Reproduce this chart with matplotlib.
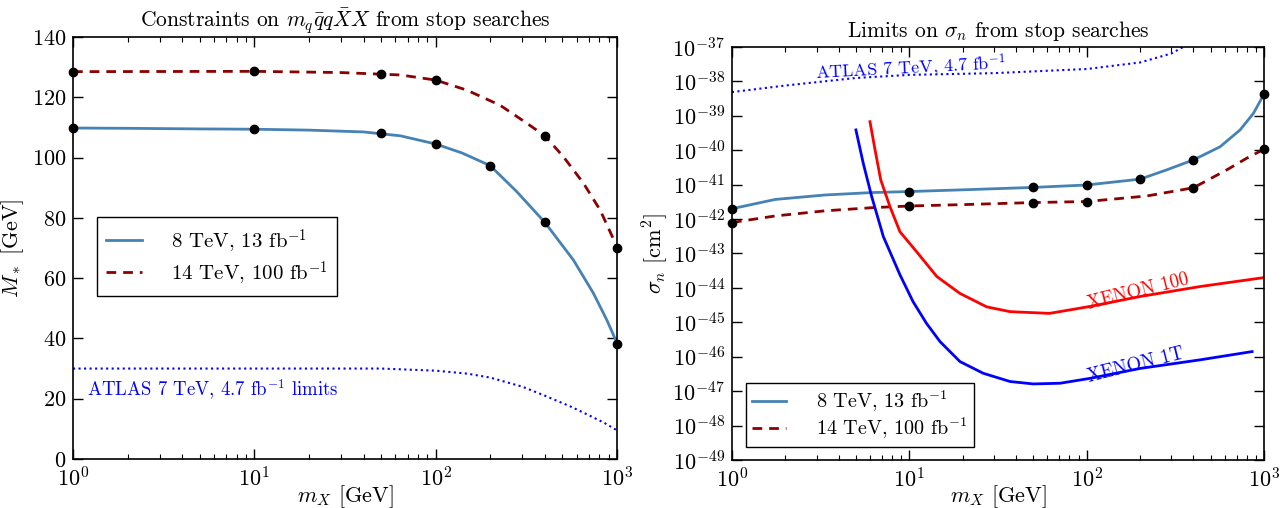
import matplotlib
matplotlib.use("Agg")
import matplotlib.pyplot as plt
import matplotlib.ticker as mticker
import numpy as np

plt.rcParams["font.family"] = ["cmr10", "DejaVu Serif"]
plt.rcParams["mathtext.fontset"] = "cm"
plt.rcParams["axes.formatter.use_mathtext"] = True
plt.rcParams["axes.unicode_minus"] = False

# ── left panel: M_* limits [GeV] ──────────────────────────────────────────────
pts_x = [1, 10, 50, 100, 200, 400, 1000]
m8_pts = [109.8, 109.4, 108.2, 104.5, 97.3, 78.7, 38.0]
m14_pts_x = [1, 10, 50, 100, 400, 1000]
m14_pts = [128.5, 128.6, 127.6, 125.8, 107.3, 70.0]

curve_x8 = [1, 2, 5, 10, 20, 40, 64, 100, 140, 200, 280, 400, 575, 741, 879, 1000]
curve_m8 = [109.8, 109.7, 109.5, 109.4, 109.1, 108.5, 107.2, 104.5, 101.5, 97.3, 88.7, 78.5, 66.0, 55.0, 46.1, 38.5]
curve_x14 = [1, 10, 30, 64, 100, 148, 226, 318, 400, 506, 653, 807, 1000]
curve_m14 = [128.5, 128.6, 128.2, 127.4, 125.7, 122.4, 117.4, 111.4, 107.2, 100.3, 91.5, 82.6, 70.4]
atlas_x = [1, 10, 50, 100, 150, 200, 300, 400, 550, 700, 850, 1000]
atlas_m = [30.0, 30.0, 30.0, 29.3, 28.3, 27.0, 24.0, 21.0, 17.5, 14.5, 12.0, 9.5]

# ── right panel: sigma_n limits, log10(cm^2) ──────────────────────────────────
s8_pts_x = [1, 10, 50, 100, 200, 400, 1000]
s8_pts = [-41.70, -41.20, -41.08, -41.01, -40.84, -40.28, -38.37]
s14_pts_x = [1, 10, 50, 100, 400, 1000]
s14_pts = [-42.10, -41.62, -41.52, -41.49, -41.09, -39.97]

s8_cx = [1, 1.75, 3.35, 6.13, 10, 20, 50, 100, 200, 283, 400, 565, 733, 871, 1000]
s8_cy = [-41.70, -41.43, -41.30, -41.23, -41.20, -41.15, -41.08, -41.01, -40.84, -40.57, -40.28, -39.90, -39.41, -38.93, -38.37]
s14_cx = [1, 1.75, 3.35, 6.13, 10, 20, 50, 100, 218, 400, 617, 800, 1000]
s14_cy = [-42.10, -41.91, -41.76, -41.67, -41.62, -41.58, -41.52, -41.49, -41.33, -41.09, -40.57, -40.23, -39.97]

atlas_sx = [1, 2, 5, 10, 30, 100, 200, 300, 350, 400]
atlas_sy = [-38.31, -38.12, -37.90, -37.81, -37.76, -37.64, -37.45, -37.19, -37.00, -36.80]

x100_x = [6.0, 6.41, 6.9, 7.78, 8.86, 10.8, 14.3, 19.3, 27.3, 37, 61.7, 104, 200, 436, 1000]
x100_y = [-39.17, -39.99, -40.86, -41.64, -42.37, -42.9, -43.67, -44.16, -44.55, -44.69, -44.74,
          -44.54, -44.25, -43.96, -43.70]
x1t_x = [5.0, 5.5, 6.14, 7.14, 8.86, 10.5, 12.5, 14.9, 19.3, 26.1, 37, 50, 70.8, 104, 200, 436, 857]
x1t_y = [-39.41, -40.38, -41.35, -42.51, -43.62, -44.4, -45.03, -45.56, -46.14, -46.48, -46.72,
         -46.79, -46.77, -46.63, -46.34, -46.09, -45.85]

C_8 = "#4682B4"
C_14 = "#8B0000"
DASH = (0, (3.5, 2.5))

fig = plt.figure(figsize=(12.83, 5.08), dpi=100)
ax1 = fig.add_axes([0.0569, 0.0965, 0.4240, 0.8307])
ax2 = fig.add_axes([0.5705, 0.0945, 0.4147, 0.8130])

FS = 16


def sig(v):
    return 10.0 ** np.array(v)


# ── left ──────────────────────────────────────────────────────────────────────
ax1.plot(curve_x8, curve_m8, color=C_8, lw=2, label=r"8 TeV, 13 fb$^{-1}$")
ax1.plot(curve_x14, curve_m14, color=C_14, lw=2, ls=DASH, label=r"14 TeV, 100 fb$^{-1}$")
ax1.plot(atlas_x, atlas_m, color="blue", lw=1.5, ls=":")
ax1.plot(pts_x, m8_pts, "o", color="black", ms=6, clip_on=False, zorder=5)
ax1.plot(m14_pts_x, m14_pts, "o", color="black", ms=6, clip_on=False, zorder=5)
ax1.set_xscale("log")
ax1.set_xlim(1, 1000)
ax1.set_ylim(0, 140)
ax1.set_yticks(np.arange(0, 141, 20))
ax1.yaxis.set_minor_locator(mticker.NullLocator())
ax1.set_title(r"Constraints on $m_q\bar{q}q\bar{X}X$ from stop searches", fontsize=15.5, pad=7)
ax1.set_xlabel(r"$m_X$ [GeV]", fontsize=FS, labelpad=-5)
ax1.set_ylabel(r"$M_*$ [GeV]", fontsize=FS, labelpad=4)
ax1.text(1.2, 23, r"ATLAS 7 TeV, 4.7 fb$^{-1}$ limits", color="blue", fontsize=13.5, va="center")
leg1 = ax1.legend(loc="upper left", bbox_to_anchor=(0.044, 0.573), borderaxespad=0, fontsize=15,
                  fancybox=False, edgecolor="black", framealpha=1, handlelength=1.7,
                  borderpad=0.45, labelspacing=0.2, handletextpad=1.4)
leg1.get_frame().set_linewidth(1.0)

# ── right ─────────────────────────────────────────────────────────────────────
ax2.plot(s8_cx, sig(s8_cy), color=C_8, lw=2, label=r"8 TeV, 13 fb$^{-1}$")
ax2.plot(s14_cx, sig(s14_cy), color=C_14, lw=2, ls=DASH, label=r"14 TeV, 100 fb$^{-1}$")
ax2.plot(atlas_sx, sig(atlas_sy), color="blue", lw=1.5, ls=":")
ax2.plot(x100_x, sig(x100_y), color="red", lw=2)
ax2.plot(x1t_x, sig(x1t_y), color="blue", lw=2)
ax2.plot(s8_pts_x, sig(s8_pts), "o", color="black", ms=6, clip_on=False, zorder=5)
ax2.plot(s14_pts_x, sig(s14_pts), "o", color="black", ms=6, clip_on=False, zorder=5)
ax2.set_xscale("log")
ax2.set_yscale("log")
ax2.set_xlim(1, 1000)
ax2.set_ylim(1e-49, 1e-37)
ax2.yaxis.set_major_locator(mticker.LogLocator(base=10, numticks=20))
ax2.yaxis.set_minor_locator(mticker.NullLocator())
ax2.set_title(r"Limits on $\sigma_n$ from stop searches", fontsize=15.5, pad=7)
ax2.set_xlabel(r"$m_X$ [GeV]", fontsize=FS, labelpad=-6)
ax2.set_ylabel(r"$\sigma_n$ [cm$^2$]", fontsize=FS, labelpad=2)
ax2.text(10.2, 10 ** -37.61, r"ATLAS 7 TeV, 4.7 fb$^{-1}$", color="blue", fontsize=13,
         ha="center", va="center", rotation=3)
ax2.text(195, 10 ** -44.12, "XENON 100", color="red", fontsize=13.5, ha="center", va="center", rotation=14)
ax2.text(188, 10 ** -46.24, "XENON 1T", color="blue", fontsize=13.5, ha="center", va="center", rotation=14)
leg2 = ax2.legend(loc="lower left", bbox_to_anchor=(0.026, 0.031), borderaxespad=0, fontsize=14.5,
                  fancybox=False, edgecolor="black", framealpha=1, handlelength=1.7,
                  borderpad=0.3, labelspacing=0.1, handletextpad=1.5)
leg2.get_frame().set_linewidth(1.0)

for ax in (ax1, ax2):
    ax.tick_params(which="both", direction="in", top=True, right=True, labelsize=FS)
    ax.tick_params(which="major", length=7, width=1, pad=5)
    ax.tick_params(which="minor", length=3.5, width=0.8)
    for s in ax.spines.values():
        s.set_linewidth(1.2)

fig.savefig("out.png", dpi=100)
